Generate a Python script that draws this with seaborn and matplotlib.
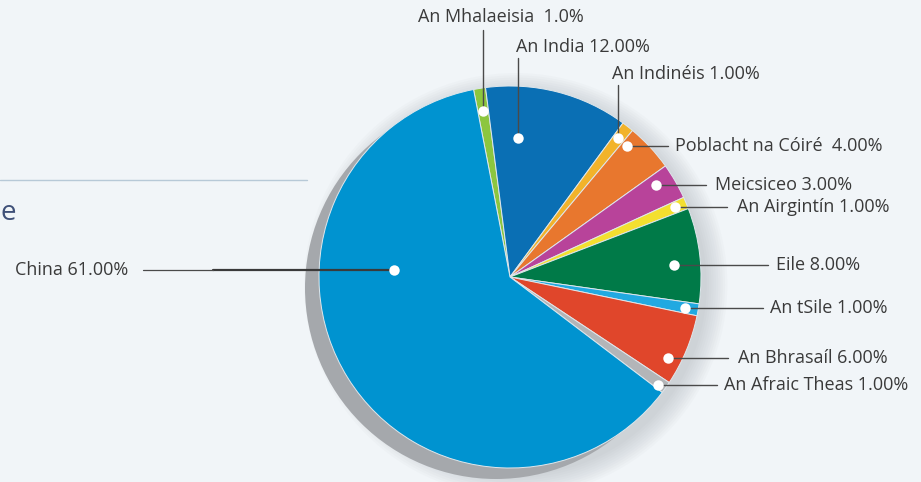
import numpy as np
import seaborn as sns
import matplotlib.pyplot as plt

# data
countries = ["An Mhalaeisia", "An India", "An Indinéis", "Poblacht na Cóiré",
             "Meicsiceo", "An Airgintín", "Eile", "An tSile", "An Bhrasaíl",
             "An Afraic Theas", "China"]
shares = [1.0, 12.0, 1.0, 4.0, 3.0, 1.0, 8.0, 1.0, 6.0, 1.0, 61.0]
labels = ["An Mhalaeisia  1.0%", "An India 12.00%", "An Indinéis 1.00%",
          "Poblacht na Cóiré  4.00%", "Meicsiceo 3.00%", "An Airgintín 1.00%",
          "Eile 8.00%", "An tSile 1.00%", "An Bhrasaíl 6.00%",
          "An Afraic Theas 1.00%", "China 61.00%"]
colors = ["#8cc63f", "#0a6fb4", "#f2b32a", "#e8772e", "#b8439a", "#f3df2f",
          "#007a48", "#21a9e1", "#e0462b", "#b3b5b8", "#0093d0"]

sns.set_theme(style="white")
plt.rcParams["font.family"] = ["Open Sans", "DejaVu Sans"]

W, H = 921, 482
CX, CY, R = 510, 277, 191


# pixel -> data helpers (layout only)
def px(x):
    return (x - CX) / R


def py(y):
    return (CY - y) / R


fig = plt.figure(figsize=(W / 100, H / 100), dpi=100)
bg = "#f1f5f8"
fig.patch.set_facecolor(bg)
ax = fig.add_axes([0, 0, 1, 1])
ax.set_facecolor(bg)

# soft blur + hard grey shadow
for k in range(10):
    ax.add_patch(plt.Circle((0.03, -0.04), 1.0 + 0.012 * k, color="#8a9099",
                            alpha=0.035, lw=0, zorder=1))
ax.add_patch(plt.Circle((px(CX - 14), py(CY + 11)), 1.0, color="#a5a8ac",
                        lw=0, zorder=2))

wedges, _ = ax.pie(shares, colors=colors, startangle=101, counterclock=False,
                   radius=1.0, center=(0, 0), frame=True,
                   wedgeprops=dict(edgecolor="#dfe7ec", linewidth=0.7, zorder=3))
ax.set_xlim(px(0), px(W))
ax.set_ylim(py(H), py(0))
ax.set_aspect("equal")
ax.axis("off")

# dot placement inside each wedge (fraction of angle from theta1, radius)
dot_frac = [0.5, 0.76, 0.6, 0.87, 0.69, 0.55, 0.42, 0.5, 0.29, 0.3, 0.34]
dot_rad = [0.88, 0.73, 0.92, 0.92, 0.90, 0.94, 0.86, 0.93, 0.93, 0.96, 0.61]
# label layout: kind, text x (px), line end (px)
kind = ["up", "up", "up", "right", "right", "right", "right", "right", "right",
        "right", "left"]
text_x = [501, 516, 612, 675, 715, 737, 776, 770, 738, 724, 128]
line_end = [30, 58, 85, 668, 706, 727, 768, 763, 728, 717, 143]
text_y = [17, 47, 74, None, None, None, None, None, None, None, None]

line_col = "#4a4a4a"
text_col = "#3a3a3a"
fs = 13

for w, lab, f, r, k, tx, le, ty in zip(wedges, labels, dot_frac, dot_rad, kind,
                                         text_x, line_end, text_y):
    ang = np.deg2rad(w.theta1 + f * (w.theta2 - w.theta1))
    dx, dy = r * np.cos(ang), r * np.sin(ang)
    if k == "up":
        ax.plot([dx, dx], [dy, py(le)], color=line_col, lw=1.0, zorder=4)
        ha = "center" if lab.startswith("An Mhal") else "left"
        ax.text(px(tx), py(ty), lab, ha=ha, va="center", fontsize=fs,
                color=text_col)
    elif k == "right":
        ax.plot([dx, px(le)], [dy, dy], color=line_col, lw=1.0, zorder=4)
        ax.text(px(tx), dy, lab, ha="left", va="center", fontsize=fs,
                color=text_col)
    else:
        ax.plot([dx, px(213)], [dy, dy], color="#3a3a3a", lw=1.6, zorder=4)
        ax.plot([px(213), px(le)], [dy, dy], color=line_col, lw=0.9, zorder=4)
        ax.text(px(tx), dy, lab, ha="right", va="center", fontsize=fs,
                color=text_col)
    ax.plot(dx, dy, "o", ms=7.5, color="white", mec="none", zorder=5)

# fragment of surrounding page layout
ax.plot([px(0), px(307)], [py(180), py(180)], color="#b7c9d7", lw=1.0)
ax.text(px(0), py(213), "e", ha="left", va="center", fontsize=20,
        color="#3f5078")

fig.savefig("out.png", dpi=100, facecolor=bg)
